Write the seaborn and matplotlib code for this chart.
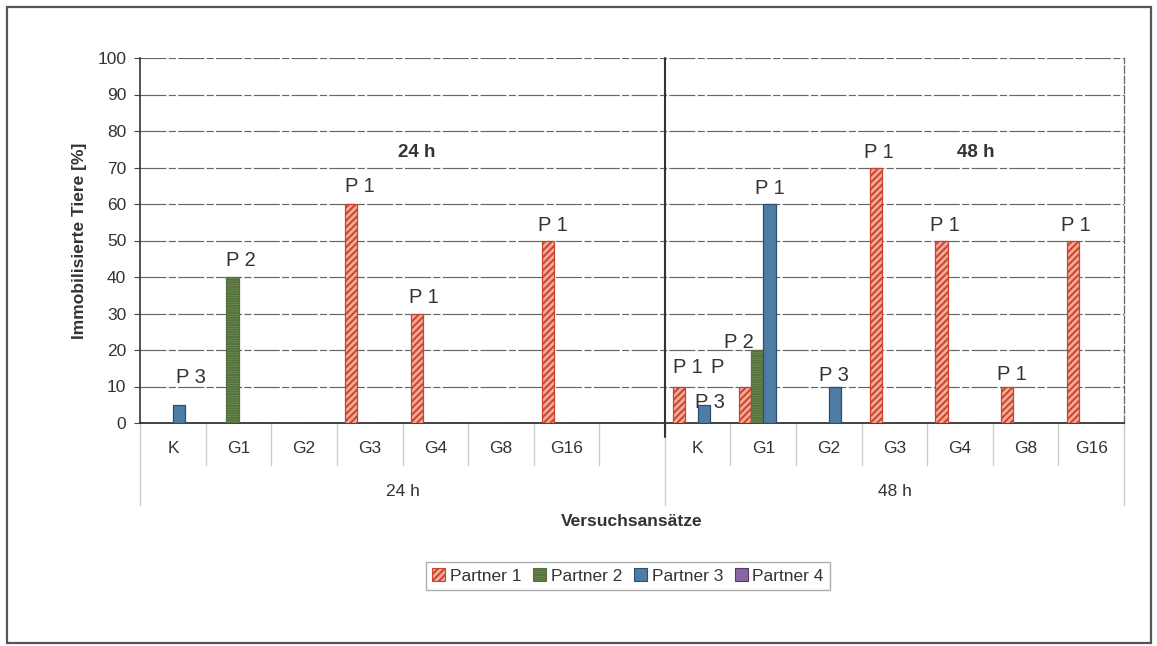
import numpy as np
import pandas as pd
import matplotlib
matplotlib.use("Agg")
import matplotlib.pyplot as plt
from matplotlib.patches import Patch, Rectangle
from matplotlib import transforms
import seaborn as sns

# ---- data -------------------------------------------------------------
periods = ["24 h", "48 h"]
categories = ["K", "G1", "G2", "G3", "G4", "G8", "G16"]
partners = ["Partner 1", "Partner 2", "Partner 3", "Partner 4"]

# immobilised animals [%] per category, one list per partner and period
partner1_24h = [0, 0, 0, 60, 30, 0, 50]
partner2_24h = [0, 40, 0, 0, 0, 0, 0]
partner3_24h = [5, 0, 0, 0, 0, 0, 0]
partner4_24h = [0, 0, 0, 0, 0, 0, 0]

partner1_48h = [10, 10, 0, 70, 50, 10, 50]
partner2_48h = [0, 20, 0, 0, 0, 0, 0]
partner3_48h = [5, 60, 10, 0, 0, 0, 0]
partner4_48h = [0, 0, 0, 0, 0, 0, 0]

# bar annotations: (period, category, partner, text)
bar_labels = [
    ("24 h", "K", "Partner 3", "P 3"),
    ("24 h", "G1", "Partner 2", "P 2"),
    ("24 h", "G3", "Partner 1", "P 1"),
    ("24 h", "G4", "Partner 1", "P 1"),
    ("24 h", "G16", "Partner 1", "P 1"),
    ("48 h", "K", "Partner 1", "P 1"),
    ("48 h", "K", "Partner 3", "P 3"),
    ("48 h", "G1", "Partner 1", "P"),
    ("48 h", "G1", "Partner 2", "P 2"),
    ("48 h", "G1", "Partner 3", "P 1"),
    ("48 h", "G2", "Partner 3", "P 3"),
    ("48 h", "G3", "Partner 1", "P 1"),
    ("48 h", "G4", "Partner 1", "P 1"),
    ("48 h", "G8", "Partner 1", "P 1"),
    ("48 h", "G16", "Partner 1", "P 1"),
]

# ---- layout of the annotations (pixel offsets from bar's top-left) ----
label_offsets = [
    (3, 27), (0, 16), (0, 17), (-2, 16), (-4, 15),
    (0, 19), (-3, 2), (-28, 19), (-27, 8), (-8, 16),
    (-10, 11), (-6, 15), (-5, 15), (-4, 12), (-6, 15),
]
behind_bars = {6}

# ---- build long table --------------------------------------------------
values = {
    "24 h": [partner1_24h, partner2_24h, partner3_24h, partner4_24h],
    "48 h": [partner1_48h, partner2_48h, partner3_48h, partner4_48h],
}
rows = []
for per in periods:
    for p_idx, partner in enumerate(partners):
        for c_idx, cat in enumerate(categories):
            rows.append({"slot": f"{per}|{cat}", "partner": partner,
                         "value": values[per][p_idx][c_idx]})
df = pd.DataFrame(rows)

slot_order = [f"24 h|{c}" for c in categories] + ["24 h|"] + \
             [f"48 h|{c}" for c in categories]
tick_text = categories + [""] + categories

# ---- styling -----------------------------------------------------------
sns.set_style("white")
plt.rcParams["font.family"] = ["Liberation Sans", "DejaVu Sans"]
plt.rcParams["hatch.linewidth"] = 1.4
text_col = "#333333"

face = {"Partner 1": "#f4aa98", "Partner 2": "#809f62",
        "Partner 3": "#4f7ca5", "Partner 4": "#8a66a0"}
edge = {"Partner 1": "#c8442c", "Partner 2": "#56713d",
        "Partner 3": "#2f4e6c", "Partner 4": "#55386a"}
hatch = {"Partner 1": "/////", "Partner 2": "-------",
         "Partner 3": "", "Partner 4": ""}

W, H = 1157, 646
fig = plt.figure(figsize=(W / 100, H / 100), dpi=100)
x0, x1, y_top, y_bot = 140.2, 1124.0, 58.0, 423.0
ax = fig.add_axes([x0 / W, 1 - y_bot / H, (x1 - x0) / W, (y_bot - y_top) / H])

sns.barplot(data=df, x="slot", y="value", hue="partner", order=slot_order,
            hue_order=partners, palette=face, width=0.75, gap=0,
            saturation=1, legend=False, errorbar=None, ax=ax, zorder=3)

# style bars per partner and index them by slot
bar_at = {}
for p_idx, cont in enumerate(ax.containers):
    partner = partners[p_idx]
    for bar in cont:
        bar.set_facecolor(face[partner])
        bar.set_edgecolor(edge[partner])
        bar.set_hatch(hatch[partner])
        bar.set_linewidth(0.9)
        bar.set_zorder(3)
        slot = int(round(bar.get_x() + bar.get_width() / 2))
        bar_at[(slot, partner)] = bar

# ---- axes -------------------------------------------------------------
ax.set_ylim(0, 100)
ax.set_xlim(-0.5, len(slot_order) - 0.5)
ax.set_yticks(np.arange(0, 101, 10))
ax.yaxis.grid(True, color="#666666", lw=0.85, ls=(0, (22, 2, 6, 2)), zorder=1)
ax.xaxis.grid(False)
ax.set_xticks(range(len(slot_order)))
ax.set_xticklabels(tick_text)
ax.tick_params(axis="x", length=0, pad=13, labelsize=12.5, labelcolor=text_col)
ax.tick_params(axis="y", length=4, width=0.8, pad=6, labelsize=12.5,
               labelcolor=text_col, color="#444444", left=True)
ax.spines["top"].set_visible(False)
ax.spines["left"].set_color("#333333")
ax.spines["left"].set_linewidth(1.2)
ax.spines["bottom"].set_color("#333333")
ax.spines["bottom"].set_linewidth(1.3)
ax.spines["right"].set_color("#666666")
ax.spines["right"].set_linestyle((0, (6, 2)))
ax.spines["right"].set_linewidth(0.9)

ax.set_xlabel("")
ax.set_ylabel("")
blend = transforms.blended_transform_factory(ax.transData, ax.transAxes)
ax_h = y_bot - y_top
ax_w = x1 - x0

ax.text((79 - x0) / ax_w, 0.5, "Immobilisierte Tiere [%]",
        transform=ax.transAxes, rotation=90, ha="center", va="center",
        fontsize=12.5, fontweight="bold", color=text_col)

# category separators below the axis
for b in np.arange(-0.5, len(slot_order), 1.0):
    is_group = b in (-0.5, 7.5, len(slot_order) - 0.5)
    depth = (505 - y_bot) / ax_h if is_group else (465 - y_bot) / ax_h
    ax.plot([b, b], [0, -depth], transform=blend, color="#cccccc", lw=1,
            clip_on=False, zorder=1)

# divider between the two periods
ax.plot([7.5, 7.5], [1.0, -(437 - y_bot) / ax_h], transform=blend,
        color="#333333", lw=1.5, clip_on=False, zorder=4)

# period names under the categories
for per, centre in zip(periods, [3.5, 11.0]):
    ax.text(centre, -(492 - y_bot) / ax_h, per, transform=blend, ha="center",
            va="center", fontsize=12.5, color=text_col)

# bold period captions inside the plot
for per, xc in zip(periods, [3.72, 12.24]):
    ax.text(xc, 74, per, ha="center", va="center", fontsize=13.5,
            fontweight="bold", color=text_col, zorder=5)

ax.text(0.5, -(521 - y_bot) / ax_h, "Versuchsansätze", transform=ax.transAxes,
        ha="center", va="center", fontsize=12.5, fontweight="bold",
        color=text_col)

# bar annotations
for i, (per, cat, partner, txt) in enumerate(bar_labels):
    slot = slot_order.index(f"{per}|{cat}")
    bar = bar_at[(slot, partner)]
    dx, dy = label_offsets[i]
    ax.annotate(txt, xy=(bar.get_x(), bar.get_height()), xytext=(dx, dy),
                textcoords="offset pixels", ha="left", va="center",
                fontsize=14.5, color=text_col,
                zorder=2 if i in behind_bars else 6)

# legend
handles = [Patch(facecolor=face[p], edgecolor=edge[p], hatch=hatch[p], lw=0.8,
                 label=p) for p in partners]
leg = fig.legend(handles=handles, loc="center", ncol=4,
                 bbox_to_anchor=(628 / W, 1 - 576 / H), frameon=True,
                 fancybox=False, edgecolor="#999999", fontsize=12.5,
                 handlelength=0.75, handleheight=0.75, handletextpad=0.25,
                 columnspacing=0.7, borderpad=0.35)
leg.get_frame().set_linewidth(1.0)
for t in leg.get_texts():
    t.set_color(text_col)

# outer frame of the chart
fig.patches.append(Rectangle((7 / W, 1 - 643 / H), (1151 - 7) / W,
                             (643 - 7) / H, transform=fig.transFigure,
                             fill=False, edgecolor="#555555", lw=1.6))

fig.savefig("out.png", dpi=100)
